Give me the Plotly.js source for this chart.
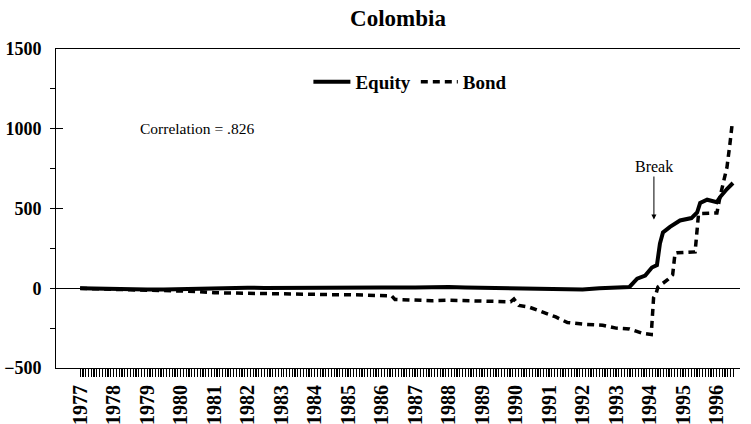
<!DOCTYPE html>
<html><head><meta charset="utf-8">
<script src="https://cdn.plot.ly/plotly-3.0.1.min.js"></script>
<style>html,body{margin:0;padding:0;background:#fff}#chart{width:751px;height:424px}</style>
</head><body><div id="chart"></div>
<script>
// Values (decimal years, index values)
const equityYears = [1977.0, 1977.5, 1978.0, 1978.5, 1979.0, 1979.5, 1980.0, 1980.5, 1981.0, 1981.5, 1982.0, 1982.5, 1983.0, 1983.5, 1984.0, 1985.0, 1986.0, 1987.0, 1987.5, 1988.0, 1988.5, 1989.0, 1990.0, 1990.5, 1991.0, 1991.5, 1992.0, 1992.5, 1993.0, 1993.4, 1993.63, 1993.87, 1994.07, 1994.22, 1994.31, 1994.40, 1994.61, 1994.91, 1995.25, 1995.42, 1995.51, 1995.72, 1996.01, 1996.10, 1996.31, 1996.49];
const equityValues = [0, -3, -5, -6, -8, -8, -5, 0, 3, 5, 3, 2, 3, 5, 5, 5, 5, 5, 8, 8, 5, 3, 0, -3, -5, -8, -8, 0, 3, 8, 60, 80, 130, 145, 280, 350, 385, 425, 440, 475, 535, 555, 540, 570, 622, 660];

const bondYears = [1977.0, 1977.5, 1978.0, 1978.5, 1979.0, 1979.5, 1980.0, 1980.5, 1981.0, 1981.5, 1982.0, 1982.5, 1983.0, 1983.5, 1984.0, 1984.5, 1985.0, 1985.5, 1986.0, 1986.3, 1986.4, 1987.0, 1987.5, 1988.0, 1988.5, 1989.0, 1989.5, 1989.85, 1989.95, 1990.1, 1990.4, 1990.8, 1991.2, 1991.55, 1992.0, 1992.6, 1993.0, 1993.4, 1993.8, 1994.05, 1994.12, 1994.2, 1994.25, 1994.52, 1994.69, 1994.76, 1994.82, 1995.36, 1995.46, 1995.51, 1996.01, 1996.10, 1996.19, 1996.31, 1996.40, 1996.46];
const bondValues = [0, -5, -8, -10, -12, -15, -15, -20, -28, -30, -35, -35, -38, -38, -38, -40, -40, -42, -45, -48, -70, -75, -78, -75, -78, -82, -85, -85, -68, -108, -118, -150, -180, -215, -225, -232, -250, -255, -283, -290, -60, -30, 8, 50, 85, 219, 222, 228, 460, 468, 472, 570, 656, 758, 906, 1019];

const yearLabels = ['1977','1978','1979','1980','1981','1982','1983','1984','1985','1986','1987','1988','1989','1990','1991','1992','1993','1994','1995','1996'];
const seriesNames = ['Equity', 'Bond'];
const chartTitle = 'Colombia';
const corrText = 'Correlation = .826';
const breakText = 'Break';

const serif = 'Liberation Serif, Times New Roman, serif';

// monthly ticks, labelled at each year start
const tickVals = [], tickText = [];
yearLabels.forEach((lab, i) => {
  const y = +lab;
  const months = (i === yearLabels.length - 1) ? 7 : 12;
  for (let m = 0; m < months; m++) {
    tickVals.push(y + m / 12);
    tickText.push(m === 0 ? lab : '');
  }
});

const data = [
  {x: equityYears, y: equityValues, name: seriesNames[0], type: 'scatter', mode: 'lines',
   line: {color: '#000', width: 4}},
  {x: bondYears, y: bondValues, name: seriesNames[1], type: 'scatter', mode: 'lines',
   line: {color: '#000', width: 3.5, dash: '7px,5px'}}
];

const layout = {
  width: 751, height: 424,
  margin: {l: 56, r: 11, t: 49, b: 56},
  paper_bgcolor: '#fff', plot_bgcolor: '#fff',
  font: {family: serif, color: '#000'},
  title: {text: chartTitle, font: {family: serif, size: 23, weight: 'bold', color: '#000'},
          x: 0.5, xref: 'paper', y: 1 - 18/424, yref: 'container', yanchor: 'middle'},
  showlegend: true,
  legend: {orientation: 'h', x: 0.369, xanchor: 'left', y: 0.897, yanchor: 'middle',
           itemwidth: 37,
           font: {family: serif, size: 19, weight: 'bold', color: '#000'},
           bgcolor: 'rgba(0,0,0,0)', borderwidth: 0},
  xaxis: {
    range: [1976.28, 1996.70], tickmode: 'array', tickvals: tickVals, ticktext: tickText,
    ticks: 'outside', ticklen: 8, tickwidth: 1.2, tickcolor: '#000', tickangle: -90,
    tickfont: {family: serif, size: 20, weight: 'bold', color: '#000'},
    showline: true, linecolor: '#000', linewidth: 1, mirror: true,
    showgrid: false, zeroline: false
  },
  yaxis: {
    range: [-500, 1500], tickmode: 'linear', tick0: -500, dtick: 500,
    ticks: 'inside', ticklen: 7, tickwidth: 1, tickcolor: '#000',
    ticklabelstandoff: 10,
    tickfont: {family: serif, size: 18, weight: 'bold', color: '#000'},
    minor: {tickmode: 'linear', tick0: -500, dtick: 250, ticks: 'outside', ticklen: 5, tickwidth: 1, tickcolor: '#000', showgrid: false},
    showline: true, linecolor: '#000', linewidth: 1, mirror: false,
    showgrid: false, zeroline: true, zerolinecolor: '#000', zerolinewidth: 1
  },
  annotations: [
    {x: 1980.50, y: 1000, xref: 'x', yref: 'y', text: corrText, showarrow: false,
     font: {family: serif, size: 15.5, color: '#000'}, xanchor: 'center', yanchor: 'middle'},
    {x: 1994.13, y: 431, xref: 'x', yref: 'y', text: breakText, showarrow: true,
     ax: 0, ay: -53, arrowhead: 2, arrowsize: 1, arrowwidth: 1, arrowcolor: '#000', standoff: 0,
     font: {family: serif, size: 16, color: '#000'}}
  ]
};

Plotly.newPlot('chart', data, layout, {staticPlot: true, displayModeBar: false});
</script>
</body></html>
